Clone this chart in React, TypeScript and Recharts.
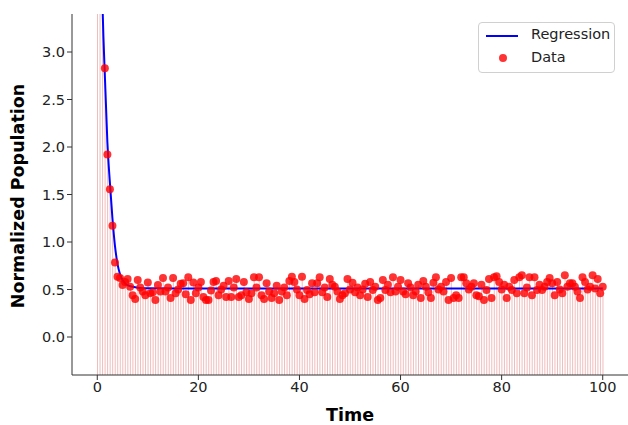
import { ComposedChart, Bar, Line, Scatter, XAxis, YAxis, Label } from 'recharts'

// observations, one every 0.5 time units from 0 to 100
const STEP = 0.5
const observed = [
    9.0, 5.9, 3.95, 2.83, 1.92, 1.555, 1.17, 0.785, 0.635, 0.62,
    0.547, 0.58, 0.61, 0.53, 0.44, 0.40, 0.60, 0.52, 0.48, 0.44,
    0.575, 0.46, 0.47, 0.39, 0.547, 0.48, 0.62, 0.48, 0.52, 0.41,
    0.62, 0.46, 0.50, 0.56, 0.565, 0.45, 0.63, 0.39, 0.575, 0.46,
    0.52, 0.58, 0.42, 0.39, 0.39, 0.49, 0.58, 0.59, 0.44, 0.50,
    0.54, 0.42, 0.59, 0.42, 0.52, 0.61, 0.42, 0.44, 0.58, 0.47,
    0.40, 0.46, 0.63, 0.52, 0.63, 0.44, 0.40, 0.565, 0.48, 0.41,
    0.46, 0.54, 0.39, 0.48, 0.52, 0.44, 0.59, 0.635, 0.58, 0.50,
    0.44, 0.635, 0.40, 0.495, 0.45, 0.565, 0.47, 0.565, 0.63, 0.47,
    0.52, 0.42, 0.61, 0.55, 0.53, 0.48, 0.40, 0.44, 0.46, 0.61,
    0.50, 0.57, 0.47, 0.52, 0.44, 0.50, 0.56, 0.42, 0.58, 0.495,
    0.53, 0.39, 0.41, 0.60, 0.495, 0.55, 0.47, 0.63, 0.48, 0.53,
    0.60, 0.48, 0.45, 0.565, 0.52, 0.44, 0.48, 0.55, 0.41, 0.59,
    0.53, 0.47, 0.41, 0.57, 0.63, 0.50, 0.53, 0.48, 0.58, 0.39,
    0.62, 0.41, 0.44, 0.41, 0.63, 0.63, 0.565, 0.50, 0.53, 0.565,
    0.44, 0.43, 0.55, 0.39, 0.495, 0.61, 0.41, 0.63, 0.64, 0.58,
    0.50, 0.55, 0.41, 0.53, 0.495, 0.60, 0.46, 0.63, 0.65, 0.46,
    0.52, 0.63, 0.44, 0.63, 0.495, 0.55, 0.495, 0.53, 0.58, 0.62,
    0.565, 0.44, 0.58, 0.50, 0.46, 0.65, 0.53, 0.565, 0.565, 0.53,
    0.48, 0.41, 0.63, 0.58, 0.50, 0.53, 0.65, 0.51, 0.61, 0.46,
    0.53,
]

// fitted curve
const fitTime = [0.5, 1.0, 1.5, 2.0, 2.5, 3.0, 3.5, 4.0, 4.5, 5.0, 5.5, 6.0, 7.0, 8.0, 10, 20, 40, 60, 80, 100]
const fitValue = [5.5, 3.6, 2.75, 2.05, 1.62, 1.25, 0.96, 0.77, 0.66, 0.6, 0.565, 0.545, 0.528, 0.518, 0.512, 0.51, 0.51, 0.51, 0.51, 0.51]

const xTicks = [0, 20, 40, 60, 80, 100]
const yTicks = [0, 0.5, 1.0, 1.5, 2.0, 2.5, 3.0]
const Y_MIN = -0.4
const Y_MAX = 3.4

const points = observed.map((v, i) => ({ t: i * STEP, y: v, stem: [Y_MIN, v] }))
const fit = fitTime.map((t, i) => ({ t, fit: fitValue[i] }))

const FONT = '"DejaVu Sans", sans-serif'
const labelStyle = { fontWeight: 'bold', fontSize: 17.5, fill: '#000', fontFamily: FONT }

function LegendBox() {
    return (
        <div
            style={{
                position: 'absolute',
                left: 478,
                top: 22,
                width: 135,
                height: 49,
                border: '1px solid #d0d0d0',
                borderRadius: 4,
                background: 'rgba(255,255,255,0.85)',
                fontFamily: FONT,
                fontSize: 14.5,
                color: '#222',
            }}
        >
            <div style={{ position: 'absolute', left: 7, top: 12, width: 32, height: 2, background: '#0000ff' }} />
            <div style={{ position: 'absolute', left: 52, top: 3 }}>Regression</div>
            <div
                style={{
                    position: 'absolute', left: 20, top: 31, width: 8, height: 8,
                    borderRadius: 4, background: 'rgba(255,0,0,0.8)',
                }}
            />
            <div style={{ position: 'absolute', left: 52, top: 26 }}>Data</div>
        </div>
    )
}

export default function App() {
    return (
        <div style={{ position: 'absolute', left: 0, top: 0, width: 628, height: 425, background: '#fff' }}>
            <ComposedChart
                width={628}
                height={425}
                data={points}
                margin={{ top: 14, right: 0, bottom: 0, left: 0 }}
                style={{ fontFamily: FONT }}
            >
                <XAxis
                    type="number"
                    dataKey="t"
                    domain={[-5, 105]}
                    ticks={xTicks}
                    allowDataOverflow
                    height={50}
                    tickSize={5}
                    tickLine={{ stroke: '#333' }}
                    axisLine={{ stroke: '#333' }}
                    tick={{ fill: '#222', fontSize: 14.5, fontFamily: FONT }}
                >
                    <Label
                        content={() => (
                            <text x={350} y={415} textAnchor="middle" dominantBaseline="central" style={labelStyle}>
                                Time
                            </text>
                        )}
                    />
                </XAxis>
                <YAxis
                    type="number"
                    domain={[Y_MIN, Y_MAX]}
                    ticks={yTicks}
                    allowDataOverflow
                    width={72}
                    tickSize={5}
                    tickFormatter={(v: number) => v.toFixed(1)}
                    tickLine={{ stroke: '#333' }}
                    axisLine={{ stroke: '#333' }}
                    tick={{ fill: '#222', fontSize: 14.5, fontFamily: FONT }}
                >
                    <Label
                        content={() => (
                            <text
                                x={18}
                                y={196}
                                transform="rotate(-90 18 196)"
                                textAnchor="middle"
                                dominantBaseline="central"
                                style={labelStyle}
                            >
                                Normalized Population
                            </text>
                        )}
                    />
                </YAxis>
                <Bar dataKey="stem" barSize={1} fill="#f1bcbc" isAnimationActive={false} legendType="none" />
                <Line
                    data={fit}
                    dataKey="fit"
                    type="monotone"
                    stroke="#0000ff"
                    strokeWidth={2}
                    dot={false}
                    activeDot={false}
                    isAnimationActive={false}
                    name="Regression"
                />
                <Scatter
                    data={points}
                    dataKey="y"
                    name="Data"
                    isAnimationActive={false}
                    shape={(p: any) => <circle cx={p.cx} cy={p.cy} r={4} fill="#ff0000" fillOpacity={0.8} />}
                />
            </ComposedChart>
            <LegendBox />
        </div>
    )
}
